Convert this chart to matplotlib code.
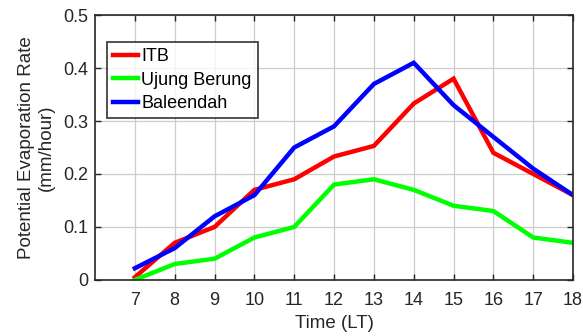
import matplotlib
matplotlib.use("Agg")
import matplotlib.pyplot as plt

plt.rcParams['font.family'] = ['Liberation Sans', 'DejaVu Sans']

hours = [7, 8, 9, 10, 11, 12, 13, 14, 15, 16, 17, 18]
itb = [0.005, 0.07, 0.10, 0.17, 0.19, 0.233, 0.253, 0.333, 0.38, 0.24, 0.20, 0.16]
ujung = [0.0, 0.03, 0.04, 0.08, 0.10, 0.18, 0.19, 0.17, 0.14, 0.13, 0.08, 0.07]
baleendah = [0.022, 0.06, 0.12, 0.16, 0.25, 0.29, 0.37, 0.41, 0.33, 0.27, 0.21, 0.16]
yticks = [0, 0.1, 0.2, 0.3, 0.4, 0.5]
ytick_labels = ['0', '0.1', '0.2', '0.3', '0.4', '0.5']

fig = plt.figure(figsize=(5.83, 3.36), dpi=100)
ax = fig.add_axes([0.163, 0.167, 0.820, 0.788])

ax.plot(hours, itb, color='#ff0000', lw=3.2, label='ITB', solid_joinstyle='miter')
ax.plot(hours, ujung, color='#00ff00', lw=3.2, label='Ujung Berung', solid_joinstyle='miter')
ax.plot(hours, baleendah, color='#0000ff', lw=3.2, label='Baleendah', solid_joinstyle='miter')

ax.set_xlim(6, 18)
ax.set_ylim(0, 0.5)
ax.set_xticks(hours)
ax.set_yticks(yticks)
ax.set_yticklabels(ytick_labels)
ax.grid(True, color='#cccccc', lw=0.9)
ax.set_axisbelow(True)
ax.tick_params(direction='in', top=True, right=True, length=4, width=1, labelsize=13, colors='#262626')
ax.tick_params(axis='x', pad=9)
ax.tick_params(axis='y', pad=5)
for s in ax.spines.values():
    s.set_linewidth(1.2)
    s.set_color('#262626')

ax.set_xlabel('Time (LT)', fontsize=13.5, color='#262626', labelpad=4)
ax.set_ylabel('Potential Evaporation Rate\n(mm/hour)', fontsize=13.5, color='#262626', labelpad=6)

leg = ax.legend(loc='upper left', bbox_to_anchor=(0.025, 0.898), fontsize=13, frameon=True,
                fancybox=False, edgecolor='black', handlelength=1.35, handletextpad=0.2,
                borderpad=0.35, labelspacing=0.35, borderaxespad=0)
leg.get_frame().set_linewidth(1.2)

fig.savefig('out.png', dpi=100)
